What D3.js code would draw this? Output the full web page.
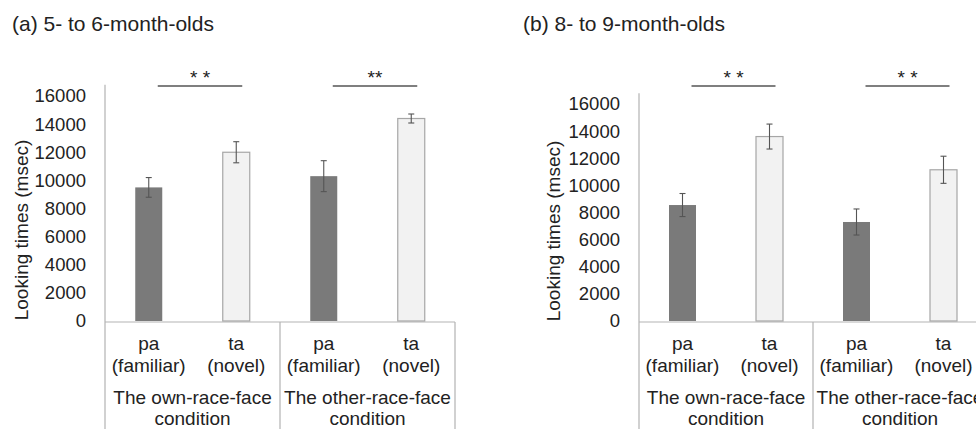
<!DOCTYPE html>
<html>
<head>
<meta charset="utf-8">
<script src="https://cdn.jsdelivr.net/npm/d3@7"></script>
<style>
  body { margin: 0; background: #fff; }
  text { font-family: "Liberation Sans", Arial, sans-serif; fill: #222; }
</style>
</head>
<body>
<div id="chart"></div>
<script>
// Looking times, two age groups

// data
var conditions = ["The own-race-face", "The other-race-face"];
var stimuli = ["pa", "ta"];
var stimulusNotes = ["(familiar)", "(novel)"];
var yTicks = [0, 2000, 4000, 6000, 8000, 10000, 12000, 14000, 16000];

var meansA = [9500, 12000, 10300, 14400];
var errorsA = [700, 750, 1100, 320];
var meansB = [8550, 13600, 7300, 11150];
var errorsB = [850, 920, 960, 1000];

var panelTitles = ["(a) 5- to 6-month-olds", "(b) 8- to 9-month-olds"];
var sigMarks = [["* *", "**"], ["* *", "* *"]];

var svgWidth = 976;
var svgHeight = 429;

var svg = d3.select("#chart")
  .append("svg")
  .attr("width", svgWidth)
  .attr("height", svgHeight);

var panels = [
  { title: panelTitles[0], titleX: 12, means: meansA, errors: errorsA, sig: sigMarks[0],
    left: 105, right: 455, zeroY: 321, topY: 96, labelX: 21, labelMid: 230 },
  { title: panelTitles[1], titleX: 523, means: meansB, errors: errorsB, sig: sigMarks[1],
    left: 639, right: 987, zeroY: 321, topY: 104, labelX: 553, labelMid: 231 }
];

// bar keys: condition x stimulus
var keys = [];
conditions.forEach((c, ci) => stimuli.forEach((s, si) => keys.push(ci + "-" + si)));

panels.forEach(p => {
  var g = svg.append("g");

  // y scale: axis line runs a bit past 16000
  var pxPerUnit = (p.zeroY - p.topY) / 16000;
  var y = d3.scaleLinear()
    .domain([0, 16800])
    .range([p.zeroY, p.zeroY - 16800 * pxPerUnit]);

  var x = d3.scaleBand()
    .domain(keys)
    .range([p.left, p.right]);

  var barW = 27;

  g.append("text")
    .attr("x", p.titleX)
    .attr("y", 31)
    .style("font-size", "21px")
    .text(p.title);

  // y axis
  var leftAxis = d3.axisLeft(y).tickValues(yTicks).tickFormat(d3.format("d"))
    .tickSize(0).tickPadding(19);
  var yAxis = g.append("g")
    .attr("transform", `translate(${p.left},0)`)
    .call(leftAxis);
  yAxis.select(".domain").remove();
  yAxis.selectAll("text")
    .style("font-size", "18.5px")
    .style("font-family", "Liberation Sans, Arial, sans-serif")
    .attr("fill", "#222");

  // axis lines
  var lineColor = "#b3b3b3";
  g.append("line")
    .attr("x1", p.left).attr("x2", p.left)
    .attr("y1", y(16800)).attr("y2", svgHeight)
    .attr("stroke", lineColor).attr("stroke-width", 1.2);
  g.append("line")
    .attr("x1", p.left).attr("x2", p.right)
    .attr("y1", y(0) + 1).attr("y2", y(0) + 1)
    .attr("stroke", lineColor).attr("stroke-width", 1.2);
  // separators between conditions
  conditions.forEach((c, ci) => {
    var xr = x(ci + "-1") + x.bandwidth();
    g.append("line")
      .attr("x1", xr).attr("x2", xr)
      .attr("y1", y(0) + 1).attr("y2", svgHeight)
      .attr("stroke", lineColor).attr("stroke-width", 1.2);
  });

  g.append("text")
    .attr("transform", "rotate(-90)")
    .attr("x", -p.labelMid)
    .attr("y", p.labelX)
    .attr("dy", "0.35em")
    .attr("text-anchor", "middle")
    .style("font-size", "19px")
    .text("Looking times (msec)");

  // bars
  g.selectAll("rect.bar")
    .data(keys)
    .enter()
    .append("rect")
    .attr("class", "bar")
    .attr("x", d => x(d) + x.bandwidth() / 2 - barW / 2)
    .attr("y", (d, i) => y(p.means[i]))
    .attr("width", barW)
    .attr("height", (d, i) => y(0) - y(p.means[i]))
    .attr("fill", (d, i) => i % 2 === 0 ? "#7a7a7a" : "#f2f2f2")
    .attr("stroke", (d, i) => i % 2 === 0 ? "none" : "#a6a6a6")
    .attr("stroke-width", 1.2);

  // error bars
  var errG = g.selectAll("g.err")
    .data(keys)
    .enter()
    .append("g")
    .attr("class", "err")
    .attr("stroke", "#555")
    .attr("stroke-width", 1.1);
  errG.append("line")
    .attr("x1", d => x(d) + x.bandwidth() / 2)
    .attr("x2", d => x(d) + x.bandwidth() / 2)
    .attr("y1", (d, i) => y(p.means[i] + p.errors[i]))
    .attr("y2", (d, i) => y(p.means[i] - p.errors[i]));
  [1, -1].forEach(sign => {
    errG.append("line")
      .attr("x1", d => x(d) + x.bandwidth() / 2 - 3)
      .attr("x2", d => x(d) + x.bandwidth() / 2 + 3)
      .attr("y1", (d, i) => y(p.means[i] + sign * p.errors[i]))
      .attr("y2", (d, i) => y(p.means[i] + sign * p.errors[i]));
  });

  // category labels
  keys.forEach((k, i) => {
    var cx = x(k) + x.bandwidth() / 2;
    g.append("text")
      .attr("x", cx).attr("y", 350)
      .attr("text-anchor", "middle")
      .style("font-size", "19px")
      .text(stimuli[i % 2]);
    g.append("text")
      .attr("x", cx).attr("y", 372)
      .attr("text-anchor", "middle")
      .style("font-size", "19px")
      .text(stimulusNotes[i % 2]);
  });
  conditions.forEach((c, ci) => {
    var cx = x(ci + "-1");
    g.append("text")
      .attr("x", cx).attr("y", 404)
      .attr("text-anchor", "middle")
      .style("font-size", "19px")
      .text(c);
    g.append("text")
      .attr("x", cx).attr("y", 425)
      .attr("text-anchor", "middle")
      .style("font-size", "19px")
      .text("condition");
  });

  // significance lines
  conditions.forEach((c, ci) => {
    var x1 = x(ci + "-0") + x.bandwidth() / 2 + 9;
    var x2 = x(ci + "-1") + x.bandwidth() / 2 + 6;
    g.append("line")
      .attr("x1", x1).attr("x2", x2)
      .attr("y1", 86).attr("y2", 86)
      .attr("stroke", "#555").attr("stroke-width", 1.3);
    g.append("text")
      .attr("x", (x1 + x2) / 2)
      .attr("y", 84)
      .attr("text-anchor", "middle")
      .style("font-size", "19px")
      .text(p.sig[ci]);
  });
});
</script>
</body>
</html>
